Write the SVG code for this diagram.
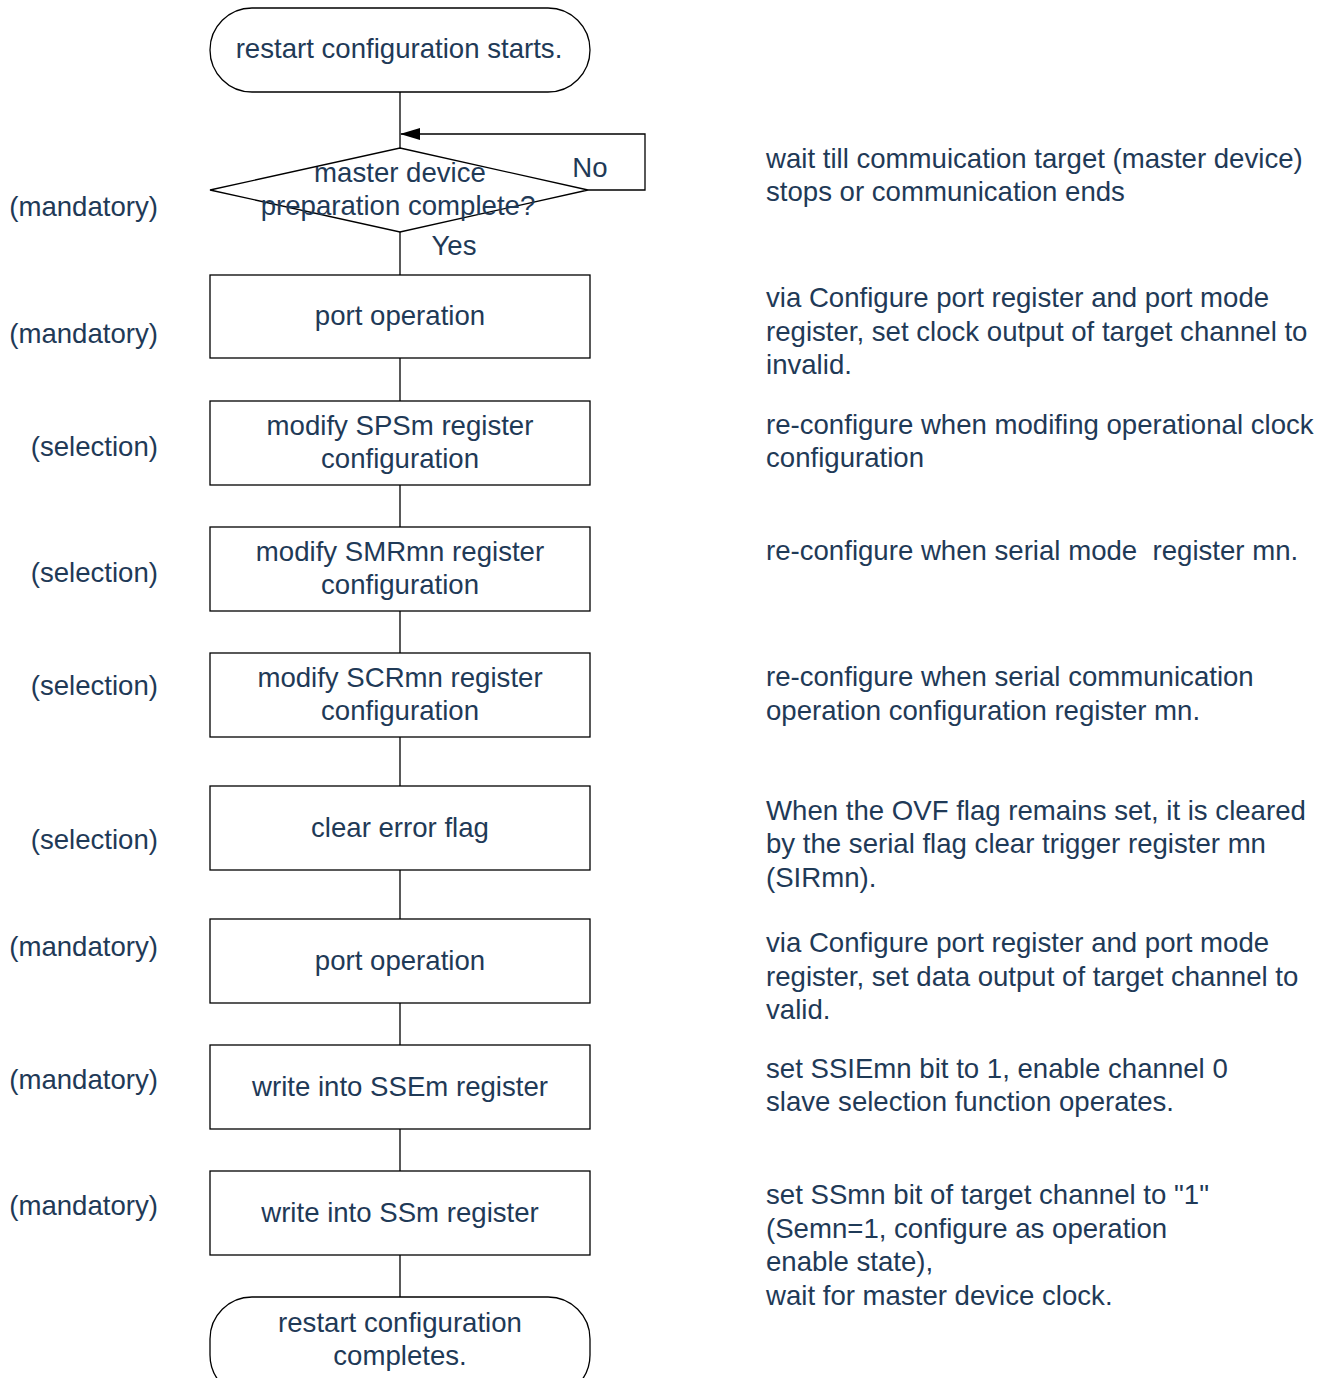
<svg xmlns="http://www.w3.org/2000/svg" width="1331" height="1378" viewBox="0 0 1331 1378">
<style>
.shape{fill:#fff;stroke:#000;stroke-width:1.3}
.line{fill:none;stroke:#000;stroke-width:1.3}
text{font-family:"Liberation Sans",Arial,sans-serif;font-size:27.6px;fill:#1f3a57}
.c{text-anchor:middle}
.r{text-anchor:end}
</style>
<defs>
<marker id="arr" markerWidth="20" markerHeight="12" refX="19" refY="6" orient="auto" markerUnits="userSpaceOnUse">
<path d="M0,0 L20,6 L0,12 Z" fill="#000"/>
</marker>
</defs>
<rect width="1331" height="1378" fill="#fff"/>
<g id="connectors">
<line class="line" x1="400" y1="92" x2="400" y2="148"/>
<polyline class="line" points="588,190 645,190 645,134 401,134" marker-end="url(#arr)"/>
<line class="line" x1="400" y1="232" x2="400" y2="275"/>
<line class="line" x1="400" y1="358" x2="400" y2="401"/>
<line class="line" x1="400" y1="485" x2="400" y2="527"/>
<line class="line" x1="400" y1="611" x2="400" y2="653"/>
<line class="line" x1="400" y1="737" x2="400" y2="786"/>
<line class="line" x1="400" y1="870" x2="400" y2="919"/>
<line class="line" x1="400" y1="1003" x2="400" y2="1045"/>
<line class="line" x1="400" y1="1129" x2="400" y2="1171"/>
<line class="line" x1="400" y1="1255" x2="400" y2="1297"/>
<text x="590" y="177" class="c">No</text>
<text x="454" y="255" class="c">Yes</text>
</g>
<g id="start">
<rect class="shape" x="210" y="8" width="380" height="84" rx="42" ry="42"/>
<text x="399" y="58" class="c">restart configuration starts.</text>
</g>
<g id="decision">
<polygon class="shape" points="400,148 588,190 400,232 210,190"/>
<text x="400" y="182" class="c">master device</text>
<text x="398" y="215" class="c">preparation complete?</text>
</g>
<g id="box1">
<rect class="shape" x="210" y="275" width="380" height="83"/>
<text x="400" y="325" class="c">port operation</text>
</g>
<g id="box2">
<rect class="shape" x="210" y="401" width="380" height="84"/>
<text x="400" y="435" class="c">modify SPSm register</text>
<text x="400" y="468" class="c">configuration</text>
</g>
<g id="box3">
<rect class="shape" x="210" y="527" width="380" height="84"/>
<text x="400" y="561" class="c">modify SMRmn register</text>
<text x="400" y="594" class="c">configuration</text>
</g>
<g id="box4">
<rect class="shape" x="210" y="653" width="380" height="84"/>
<text x="400" y="687" class="c">modify SCRmn register</text>
<text x="400" y="720" class="c">configuration</text>
</g>
<g id="box5">
<rect class="shape" x="210" y="786" width="380" height="84"/>
<text x="400" y="837" class="c">clear error flag</text>
</g>
<g id="box6">
<rect class="shape" x="210" y="919" width="380" height="84"/>
<text x="400" y="970" class="c">port operation</text>
</g>
<g id="box7">
<rect class="shape" x="210" y="1045" width="380" height="84"/>
<text x="400" y="1096" class="c">write into SSEm register</text>
</g>
<g id="box8">
<rect class="shape" x="210" y="1171" width="380" height="84"/>
<text x="400" y="1222" class="c">write into SSm register</text>
</g>
<g id="end">
<rect class="shape" x="210" y="1297" width="380" height="100" rx="42" ry="42"/>
<text x="400" y="1332" class="c">restart configuration</text>
<text x="400" y="1365" class="c">completes.</text>
</g>
<g id="left-labels">
<text x="158" y="216" class="r">(mandatory)</text>
<text x="158" y="343" class="r">(mandatory)</text>
<text x="158" y="456" class="r">(selection)</text>
<text x="158" y="582" class="r">(selection)</text>
<text x="158" y="695" class="r">(selection)</text>
<text x="158" y="849" class="r">(selection)</text>
<text x="158" y="956" class="r">(mandatory)</text>
<text x="158" y="1089" class="r">(mandatory)</text>
<text x="158" y="1215" class="r">(mandatory)</text>
</g>
<g id="notes">
<text x="766" y="168">wait till commuication target (master device)</text>
<text x="766" y="201">stops or communication ends</text>
<text x="766" y="307">via Configure port register and port mode</text>
<text x="766" y="341">register, set clock output of target channel to</text>
<text x="766" y="374">invalid.</text>
<text x="766" y="434">re-configure when modifing operational clock</text>
<text x="766" y="467">configuration</text>
<text x="766" y="560" xml:space="preserve" style="white-space:pre">re-configure when serial mode  register mn.</text>
<text x="766" y="686">re-configure when serial communication</text>
<text x="766" y="720">operation configuration register mn.</text>
<text x="766" y="820">When the OVF flag remains set, it is cleared</text>
<text x="766" y="853">by the serial flag clear trigger register mn</text>
<text x="766" y="887">(SIRmn).</text>
<text x="766" y="952">via Configure port register and port mode</text>
<text x="766" y="986">register, set data output of target channel to</text>
<text x="766" y="1019">valid.</text>
<text x="766" y="1078">set SSIEmn bit to 1, enable channel 0</text>
<text x="766" y="1111">slave selection function operates.</text>
<text x="766" y="1204">set SSmn bit of target channel to "1"</text>
<text x="766" y="1238">(Semn=1, configure as operation</text>
<text x="766" y="1271">enable state),</text>
<text x="766" y="1305">wait for master device clock.</text>
</g>
</svg>
